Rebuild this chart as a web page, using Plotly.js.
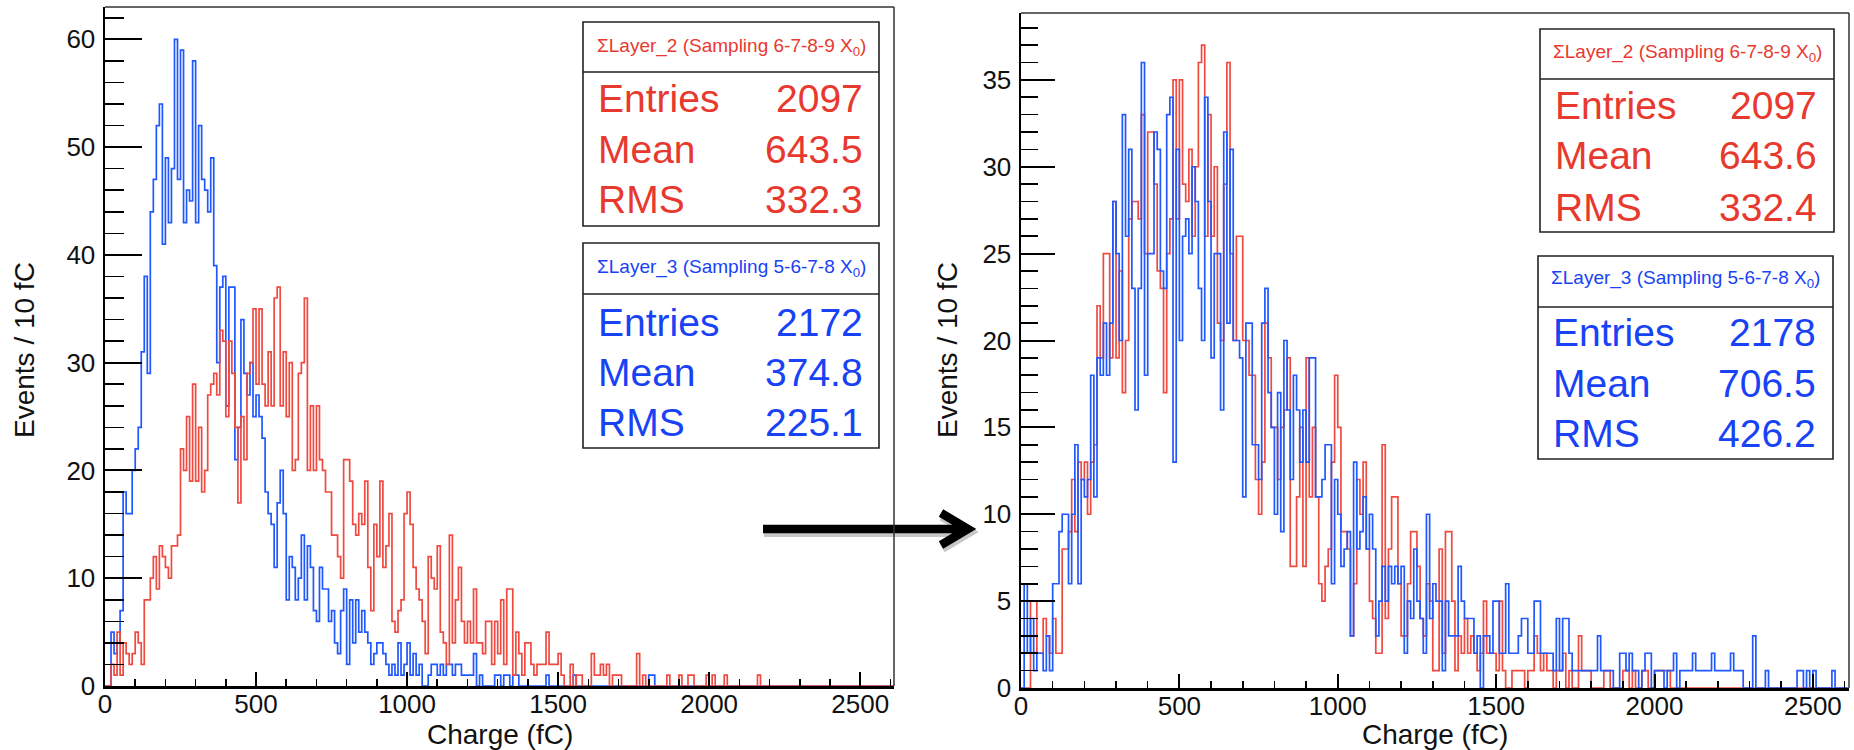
<!DOCTYPE html>
<html><head><meta charset="utf-8">
<script src="https://cdn.plot.ly/plotly-3.0.1.min.js"></script>
<style>html,body{margin:0;padding:0;background:#fff;} #chart{width:1854px;height:750px;}</style>
</head><body><div id="chart"></div>
<script>
// ---- data: counts per 10 fC bin, bin 0 = [0,10) fC ----
const binWidth = 10;

// left panel
const leftLayer2 = [
0,0,2,1,5,1,4,3,2,3,
5,4,2,8,8,10,12,9,13,12,
11,10,13,13,14,22,20,25,19,28,
19,24,18,20,27,28,29,27,33,32,
25,32,29,24,17,25,21,29,30,35,
28,35,28,26,31,26,36,37,26,31,
25,30,20,21,29,30,36,20,26,20,
26,21,20,18,18,14,14,12,10,21,
21,19,15,14,16,15,19,11,7,15,
12,19,11,13,16,6,5,7,8,16,
18,15,11,9,8,6,3,12,10,9,
13,5,4,2,14,4,8,11,6,4,
6,4,9,4,4,3,6,6,2,6,
3,8,2,9,9,1,5,3,1,4,
4,2,1,2,2,2,5,2,2,2,
3,1,0,0,2,0,1,1,0,0,
0,3,1,1,2,1,2,0,1,1,
1,0,0,0,0,0,3,0,1,0,
0,0,0,0,0,0,1,0,0,0,
1,0,0,1,1,0,0,0,0,1,
0,1,0,0,0,1,0,0,0,0,
0,0,0,0,0,0,1,0,0,0,
0,0,0,0,0,0,0,0,0,0,
0,0,0,0,0,0,0,0,0,0,
0,0,0,0,0,0,0,0,0,0,
0,0,0,0,0,0,0,0,0,0,
0];
const leftLayer3 = [
0,0,5,3,4,7,18,16,16,20,
22,24,31,38,29,44,47,52,54,41,
49,43,48,60,47,59,43,46,45,58,
43,52,47,46,44,49,39,30,37,38,
26,37,37,21,24,34,29,27,30,25,
27,25,23,18,16,15,11,17,20,16,
8,12,11,8,10,14,8,13,11,7,
6,11,9,9,6,7,4,3,7,9,
2,8,4,8,5,7,5,4,2,3,
4,4,3,2,1,2,1,4,1,2,
4,1,3,1,2,0,0,1,2,2,
1,2,1,2,2,1,2,2,1,1,
1,1,3,0,1,0,0,0,0,1,
1,0,1,1,0,1,1,0,0,0,
0,0,0,0,0,0,1,0,0,0,
0,0,0,0,0,1,0,0,0,0,
0,0,0,0,0,0,0,0,0,0,
0,0,0,0,0,0,0,0,0,0,
1,1,0,0,0,0,0,0,0,0,
0,0,0,0,0,0,0,0,0,0,
0,0,0,0,0,0,0,0,0,0,
0,0,0,0,0,0,0,0,0,0,
0,0,0,0,0,0,0,0,0,0,
0,0,0,0,0,0,0,0,0,0,
0,0,0,0,0,0,0,0,0,0,
0,0,0,0,0,0,0,0,0,0,
0];

// right panel
const rightLayer2 = [
0,0,0,5,5,2,2,4,3,2,
4,2,2,8,8,9,12,9,13,12,
13,10,13,14,22,19,25,25,19,28,
19,24,17,20,27,28,28,27,33,25,
32,32,29,24,23,17,25,27,35,27,
35,29,28,31,26,30,36,37,26,33,
26,30,21,20,29,36,25,20,26,26,
20,20,18,18,12,10,13,21,19,15,
15,12,15,16,19,7,7,11,15,7,
19,11,15,11,6,5,7,8,13,18,
15,9,9,8,3,6,12,10,13,8,
5,4,2,2,14,4,8,11,11,6,
3,3,6,9,9,7,4,3,6,5,
1,1,8,2,9,9,5,1,3,2,
4,2,3,2,1,2,5,2,2,2,
1,5,1,0,0,1,1,1,1,0,
1,1,3,2,1,2,1,1,0,1,
1,2,0,1,0,0,3,1,1,1,
0,0,0,0,1,1,0,0,0,0,
1,1,0,1,0,0,1,1,0,0,
1,1,1,1,1,0,0,0,0,0,
0,0,0,0,0,0,0,0,0,0,
0,0,0,0,0,0,0,0,0,0,
0,0,0,0,0,0,0,0,0,0,
0,0,0,0,0,0,0,0,0,0,
0,0,0,0,0,0,0,0,0,0,
0];
const rightLayer3 = [
0,6,2,4,1,2,2,1,3,1,
6,6,9,10,10,6,10,14,6,12,
11,12,18,11,19,18,21,18,21,28,
25,20,33,26,31,23,16,23,36,18,
25,25,32,31,24,23,33,34,13,31,
20,26,27,25,30,28,23,20,34,28,
19,25,25,16,32,21,31,20,20,19,
11,21,21,14,14,12,21,23,17,15,
10,17,9,20,16,12,18,16,13,16,
13,19,19,11,11,12,14,14,6,12,
10,7,8,9,3,13,8,9,11,8,
10,8,3,5,7,5,7,6,7,6,
7,2,5,4,8,5,4,2,10,4,
6,5,5,1,5,3,3,3,7,5,
4,4,4,2,3,0,3,3,2,5,
5,2,2,6,2,2,2,3,4,4,
2,2,5,5,2,2,2,2,1,4,
1,4,4,2,1,1,1,1,1,1,
1,1,3,1,1,1,1,0,0,2,
2,1,2,1,1,0,1,2,2,0,
1,1,1,0,1,1,2,0,1,1,
1,1,2,1,1,1,1,1,2,1,
1,1,1,1,2,1,1,1,0,0,
0,3,0,0,0,1,0,0,0,0,
0,0,0,0,0,1,1,0,1,0,
1,0,0,0,0,0,1,0,0,0,
0];

// stat boxes
const statNames = ['Entries', 'Mean', 'RMS'];
const leftL2Stats = ['2097', '643.5', '332.3'];
const leftL3Stats = ['2172', '374.8', '225.1'];
const rightL2Stats = ['2097', '643.6', '332.4'];
const rightL3Stats = ['2178', '706.5', '426.2'];
const layer2Title = 'ΣLayer_2 (Sampling 6-7-8-9 X<sub>0</sub>)';
const layer3Title = 'ΣLayer_3 (Sampling 5-6-7-8 X<sub>0</sub>)';
const xTitle = 'Charge (fC)';
const yTitle = 'Events / 10 fC';

// ---- drawing ----
const W = 1854, H = 750;
const px = v => v / W, py = v => 1 - v / H;
const FONT = 'Liberation Sans, Arial, Helvetica, sans-serif';
const RED_LINE = '#f04a40', BLUE_LINE = '#2058ff';
const RED_TXT = '#e8392f', BLUE_TXT = '#1842f5';

function step(vals, xa, ya, color) {
  const x = vals.map((_, i) => i * binWidth).concat([vals.length * binWidth]);
  const y = vals.concat([0]);
  return {type: 'scatter', mode: 'lines', x: x, y: y, xaxis: xa, yaxis: ya,
    line: {shape: 'hv', color: color, width: 1.7}, hoverinfo: 'skip', showlegend: false};
}

const data = [
  step(leftLayer3, 'x', 'y', BLUE_LINE),
  step(leftLayer2, 'x', 'y', RED_LINE),
  step(rightLayer2, 'x2', 'y2', RED_LINE),
  step(rightLayer3, 'x2', 'y2', BLUE_LINE)
];

function xax(d0, d1, anchor, rmax) {
  return {domain: [px(d0), px(d1)], anchor: anchor, range: [0, rmax], showgrid: false, zeroline: false,
    showline: true, linecolor: '#000', linewidth: 2.5, ticks: 'inside', ticklen: 14, tickwidth: 2, tickcolor: '#000',
    tick0: 0, dtick: 500, tickfont: {family: FONT, size: 26, color: '#111'}, ticklabelstandoff: -7,
    minor: {ticks: 'inside', ticklen: 7, tickwidth: 1.6, tickcolor: '#000', dtick: 100, showgrid: false}};
}
function yax(top, bot, anchor, rmax, dt, mdt, tl) {
  return {domain: [py(bot), py(top)], anchor: anchor, range: [0, rmax], showgrid: false, zeroline: false,
    showline: true, linecolor: '#000', linewidth: 2.5, ticks: 'inside', ticklen: tl, tickwidth: 2, tickcolor: '#000',
    tick0: 0, dtick: dt, tickfont: {family: FONT, size: 26, color: '#111'}, ticklabelstandoff: 2,
    minor: {ticks: 'inside', ticklen: Math.round(tl / 2), tickwidth: 1.6, tickcolor: '#000', dtick: mdt, showgrid: false}};
}

const shapes = [];
const annotations = [];

// arrow (shadow first)
function arrowPath(dx, dy) {
  return 'M ' + px(763 + dx) + ',' + py(529 + dy) + ' L ' + px(963 + dx) + ',' + py(529 + dy) +
         ' M ' + px(941 + dx) + ',' + py(513 + dy) + ' L ' + px(968 + dx) + ',' + py(529 + dy) + ' L ' + px(941 + dx) + ',' + py(545 + dy);
}
shapes.push({type: 'path', xref: 'paper', yref: 'paper', path: arrowPath(1, 3), line: {color: 'rgba(0,0,0,0.22)', width: 10}});
shapes.push({type: 'path', xref: 'paper', yref: 'paper', path: arrowPath(0, 0), line: {color: '#000', width: 8.5}});

// frames top/right
function frame(x0, x1, y0, y1) {
  shapes.push({type: 'line', xref: 'paper', yref: 'paper', x0: px(x0), x1: px(x1), y0: py(y0), y1: py(y0), line: {color: '#333', width: 1.5}});
  shapes.push({type: 'line', xref: 'paper', yref: 'paper', x0: px(x1), x1: px(x1), y0: py(y0), y1: py(y1), line: {color: '#333', width: 1.5}});
}
frame(105, 894, 7, 686);
frame(1021, 1849, 13, 688);

function statBox(x0, x1, y0, y1, div, headY, rows, tl, tr, title, vals, color) {
  shapes.push({type: 'rect', xref: 'paper', yref: 'paper', x0: px(x0), x1: px(x1), y0: py(y1), y1: py(y0),
    line: {color: '#222', width: 1.6}, fillcolor: '#fff'});
  shapes.push({type: 'line', xref: 'paper', yref: 'paper', x0: px(x0), x1: px(x1), y0: py(div), y1: py(div),
    line: {color: '#222', width: 1.6}});
  annotations.push({xref: 'paper', yref: 'paper', x: px((x0 + x1) / 2), y: py(headY), xanchor: 'center', yanchor: 'middle',
    text: title, showarrow: false, font: {family: FONT, size: 19, color: color}});
  statNames.forEach((n, i) => {
    annotations.push({xref: 'paper', yref: 'paper', x: px(tl), y: py(rows[i]), xanchor: 'left', yanchor: 'middle',
      text: n, showarrow: false, font: {family: FONT, size: 39, color: color}});
    annotations.push({xref: 'paper', yref: 'paper', x: px(tr), y: py(rows[i]), xanchor: 'right', yanchor: 'middle',
      text: vals[i], showarrow: false, font: {family: FONT, size: 39, color: color}});
  });
}
statBox(583, 879, 22, 226, 72, 47, [98, 150, 200], 596, 865, layer2Title, leftL2Stats, RED_TXT);
statBox(583, 879, 243, 448, 294, 268, [322, 372, 422], 596, 865, layer3Title, leftL3Stats, BLUE_TXT);
statBox(1540, 1834, 29, 232, 79, 53, [105, 155, 207], 1553, 1819, layer2Title, rightL2Stats, RED_TXT);
statBox(1538, 1833, 256, 459, 307, 279, [332, 383, 433], 1551, 1818, layer3Title, rightL3Stats, BLUE_TXT);

// axis titles
[[500, 24], [1435, 947]].forEach(([xc, yx]) => {
  annotations.push({xref: 'paper', yref: 'paper', x: px(xc), y: py(734), xanchor: 'center', yanchor: 'middle',
    text: xTitle, showarrow: false, font: {family: FONT, size: 28, color: '#111'}});
  annotations.push({xref: 'paper', yref: 'paper', x: px(yx), y: py(350), xanchor: 'center', yanchor: 'middle',
    text: yTitle, textangle: -90, showarrow: false, font: {family: FONT, size: 28, color: '#111'}});
});

const layout = {
  width: W, height: H, margin: {l: 0, r: 0, t: 0, b: 0},
  paper_bgcolor: '#fff', plot_bgcolor: 'rgba(0,0,0,0)',
  font: {family: FONT},
  xaxis: xax(105, 894, 'y', 2612),
  yaxis: yax(7, 686, 'x', 63, 10, 2, 37),
  xaxis2: xax(1021, 1849, 'y2', 2614),
  yaxis2: yax(13, 688, 'x2', 38.85, 5, 1, 34),
  shapes: shapes,
  annotations: annotations
};

Plotly.newPlot('chart', data, layout, {staticPlot: true, displayModeBar: false});
</script>
</body></html>
